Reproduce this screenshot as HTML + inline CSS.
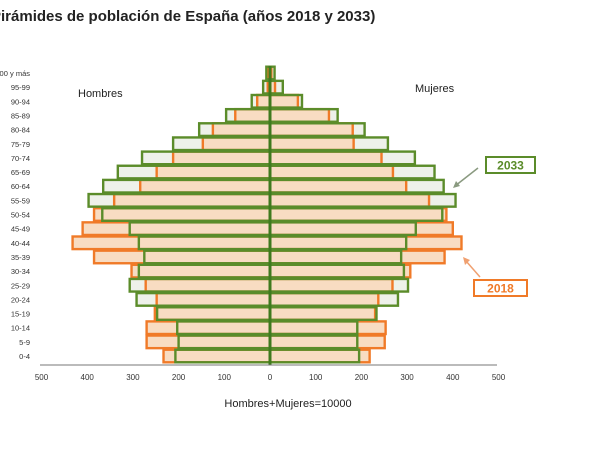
<!DOCTYPE html>
<html><head><meta charset="utf-8"><style>
body{margin:0;background:#fff;width:600px;height:450px;overflow:hidden;font-family:"Liberation Sans",sans-serif}
svg{display:block}
</style></head><body>
<svg id="c" width="600" height="450">
<text x="-9" y="21" font-size="15" font-weight="bold" fill="#222">Pirámides de población de España (años 2018 y 2033)</text>
<text x="78" y="97" font-size="11" fill="#222">Hombres</text>
<text x="415" y="92" font-size="11" fill="#222">Mujeres</text>
<text x="288" y="407" font-size="11" fill="#222" text-anchor="middle">Hombres+Mujeres=10000</text>
<g id="bars"></g>
<g id="ticks"></g>
<g id="ages"></g>
<rect x="486" y="157" width="49" height="16" fill="#fff" stroke="#5b8c2a" stroke-width="2"/>
<text x="510.5" y="169.5" font-size="12" font-weight="bold" fill="#5b8c2a" text-anchor="middle">2033</text>
<line x1="478" y1="168" x2="455" y2="186" stroke="#8a9a80" stroke-width="1.5"/>
<polygon points="453,188 456,181 460,186" fill="#8a9a80"/>
<rect x="474" y="280" width="53" height="16" fill="#fff" stroke="#f07a28" stroke-width="2"/>
<text x="500.5" y="292.5" font-size="12" font-weight="bold" fill="#f07a28" text-anchor="middle">2018</text>
<line x1="480" y1="277" x2="466" y2="261" stroke="#f0a070" stroke-width="1.5"/>
<polygon points="463,257 470,260 465,265" fill="#f0a070"/>
</svg>
<script>
const ages=["100 y más","95-99","90-94","85-89","80-84","75-79","70-74","65-69","60-64","55-59","50-54","45-49","40-44","35-39","30-34","25-29","20-24","15-19","10-14","5-9","0-4"];
const men2018=[3,5,28,76,125,147,212,248,284,341,385,410,432,385,303,272,248,252,270,270,233];
const men2033=[8,15,40,96,155,212,280,333,365,397,367,307,287,275,287,307,292,247,203,200,207];
const women2018=[3,11,61,129,181,183,244,269,298,348,386,400,419,382,307,268,237,230,253,251,218];
const women2033=[10,28,70,148,207,258,317,360,380,406,377,319,298,287,293,302,280,233,191,191,195];
const tickValues=[500,400,300,200,100,0,100,200,300,400,500];
const NS="http://www.w3.org/2000/svg";
const X0=270,K=0.457;
function xs(v,side){return side<0?X0-v*K:X0+v*K;}
function yc(i){return 73+i*14.15;}
function mk(tag,attrs,parent){const e=document.createElementNS(NS,tag);for(const k in attrs)e.setAttribute(k,attrs[k]);parent.appendChild(e);return e;}
const bars=document.getElementById('bars');
const H=12.6;
function rect(v,side,i,fill,stroke,name){
  const x1=xs(v,side);const x=Math.min(x1,X0),w=Math.abs(x1-X0);
  const r=mk('rect',{x:x,y:yc(i)-H/2,width:w,height:H,fill:fill,stroke:stroke,'stroke-width':2.4},bars);
  
  
}
ages.forEach((a,i)=>{
  rect(men2033[i],-1,i,'#eef1ea','none','bar-men-2033-bg');
  rect(women2033[i],1,i,'#eef1ea','none','bar-women-2033-bg');
});
ages.forEach((a,i)=>{
  rect(men2018[i],-1,i,'#f8dcc2','#f07a28','bar-men-2018');
  rect(women2018[i],1,i,'#f8dcc2','#f07a28','bar-women-2018');
});
ages.forEach((a,i)=>{
  rect(men2033[i],-1,i,'none','#5b8c2a','bar-men-2033');
  rect(women2033[i],1,i,'none','#5b8c2a','bar-women-2033');
});
const cl=mk('line',{x1:X0,y1:66,x2:X0,y2:365,stroke:'#3f7a1e','stroke-width':3},bars);


const ax=mk('line',{x1:40,y1:365,x2:497,y2:365,stroke:'#777','stroke-width':1},bars);


const ticks=document.getElementById('ticks');
tickValues.forEach((v,j)=>{
  const x=xs(v,j<5?-1:1);
  const t=mk('text',{x:x,y:380,'font-size':8,fill:'#333','text-anchor':'middle'},ticks);
  t.textContent=v;
  
  
});
const ag=document.getElementById('ages');
ages.forEach((a,i)=>{
  const t=mk('text',{x:30,y:yc(i)+3,'font-size':7.5,fill:'#333','text-anchor':'end'},ag);
  t.textContent=a;
  
  
});
</script>
</body></html>
